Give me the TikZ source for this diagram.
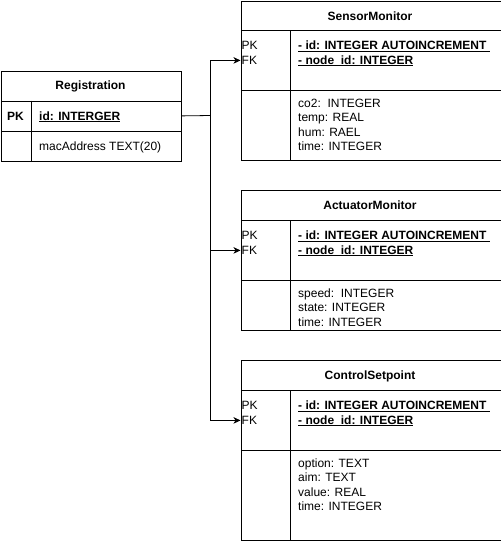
\documentclass[tikz,border=0pt]{standalone}
\usepackage{fontspec}
\setmainfont{Liberation Sans}
\usetikzlibrary{arrows.meta}
\newcommand\ulx[1]{\setbox0=\hbox{#1}\rlap{\copy0}\rule[-2pt]{\wd0}{0.7pt}}
\newcommand\stk[1]{\vtop{\baselineskip=14.5pt\lineskiplimit=-20pt\lineskip=0pt #1}}
\begin{document}
\begin{tikzpicture}[x=1pt,y=-1pt,
  cell/.style={draw=black, line width=0.8pt, inner sep=0pt, anchor=north west},
  txt/.style={anchor=base west, inner sep=0pt, font=\fontsize{12}{14.5}\selectfont},
  btxt/.style={txt, font=\fontsize{12}{14.5}\selectfont\bfseries},
  ttl/.style={anchor=base, inner sep=0pt, font=\fontsize{12}{14.5}\selectfont\bfseries},
  conn/.style={draw=black, line width=0.8pt},
  arr/.style={conn, -{Stealth[length=7pt,width=6.5pt,inset=2pt]}}]
\useasboundingbox (0,0) rectangle (501,544);

% Registration
\node[cell, minimum width=180pt, minimum height=30pt] (reghead) at (0.5,70.5) {};
\node[cell, minimum width=180pt, minimum height=30pt] (regpkrow) at (0.5,100.5) {};
\node[cell, minimum width=180pt, minimum height=30pt] (regattr) at (0.5,130.5) {};
\draw[conn] (31,100.5) -- (31,160.5);
\node[ttl] (regt) at (90.5,89.5) {Registration};
\node[btxt] (regpk) at (7,120) {PK};
\node[btxt] (regid) at (39,120) {\ulx{id: INTERGER}};
\node[txt] (regmac) at (39,150) {macAddress TEXT(20)};

% SensorMonitor
\node[cell, minimum width=260pt, minimum height=29pt] (smhead) at (240.5,1) {};
\node[cell, minimum width=260pt, minimum height=60pt] (smkeys) at (240.5,30) {};
\node[cell, minimum width=260pt, minimum height=70pt] (smattr) at (240.5,90) {};
\draw[conn] (290,30) -- (290,160);
\node[ttl] (smt) at (370,20) {SensorMonitor};
\node[txt] (smpk) at (241.5,49.5) {\stk{\hbox{PK}\hbox{FK}}};
\node[btxt] (smk) at (298,49.5)
  {\stk{\hbox{\ulx{- id: INTEGER AUTOINCREMENT }}\hbox{\ulx{- node\_id: INTEGER}}}};
\node[txt] (sma) at (298,107)
  {\stk{\hbox{co2:\ \ INTEGER}\hbox{temp: REAL}\hbox{hum: RAEL}\hbox{time: INTEGER}}};

% ActuatorMonitor
\node[cell, minimum width=260pt, minimum height=30pt] (amhead) at (240.5,190) {};
\node[cell, minimum width=260pt, minimum height=60pt] (amkeys) at (240.5,220) {};
\node[cell, minimum width=260pt, minimum height=50pt] (amattr) at (240.5,280) {};
\draw[conn] (290,220) -- (290,330);
\node[ttl] (amt) at (370,209) {ActuatorMonitor};
\node[txt] (ampk) at (241.5,239.5) {\stk{\hbox{PK}\hbox{FK}}};
\node[btxt] (amk) at (298,239.5)
  {\stk{\hbox{\ulx{- id: INTEGER AUTOINCREMENT }}\hbox{\ulx{- node\_id: INTEGER}}}};
\node[txt] (ama) at (298,297)
  {\stk{\hbox{speed:\ \ INTEGER}\hbox{state: INTEGER}\hbox{time: INTEGER}}};

% ControlSetpoint
\node[cell, minimum width=260pt, minimum height=30pt] (cshead) at (240.5,360) {};
\node[cell, minimum width=260pt, minimum height=60pt] (cskeys) at (240.5,390) {};
\node[cell, minimum width=260pt, minimum height=90pt] (csattr) at (240.5,450) {};
\draw[conn] (290,390) -- (290,540);
\node[ttl] (cst) at (370,379) {ControlSetpoint};
\node[txt] (cspk) at (241.5,409.5) {\stk{\hbox{PK}\hbox{FK}}};
\node[btxt] (csk) at (298,409.5)
  {\stk{\hbox{\ulx{- id: INTEGER AUTOINCREMENT }}\hbox{\ulx{- node\_id: INTEGER}}}};
\node[txt] (csa) at (298,467)
  {\stk{\hbox{option: TEXT}\hbox{aim: TEXT}\hbox{value: REAL}\hbox{time: INTEGER}}};

% connectors
\coordinate (j) at (210.5,115.5);
\draw[conn] (regpkrow.east) -- (j);
\draw[arr] (j) |- (smkeys.west);
\draw[arr] (j) |- (amkeys.west);
\draw[arr] (j) |- (cskeys.west);
\end{tikzpicture}
\end{document}
